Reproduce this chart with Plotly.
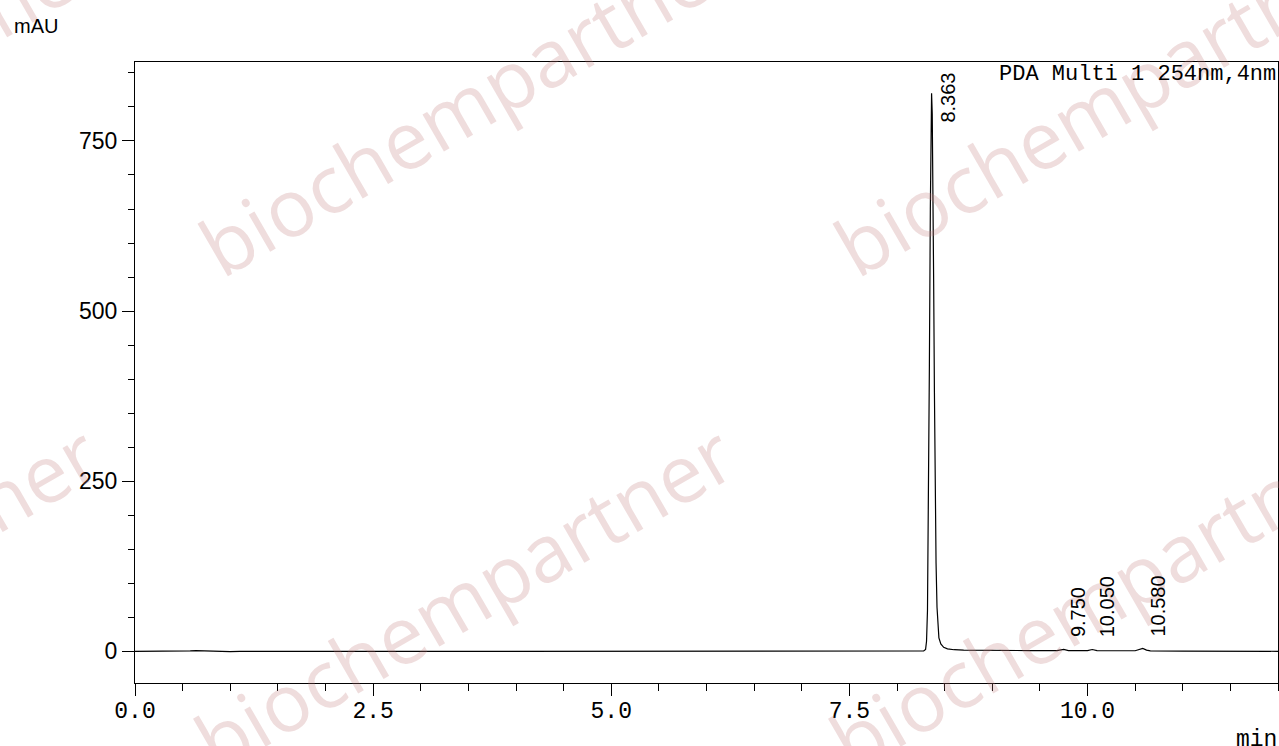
import plotly.graph_objects as go

# ---------------- data ----------------
time_min = [0.00, 0.30, 0.50, 0.58, 0.64, 0.70, 0.78, 0.90, 1.00, 1.10, 1.20, 1.30, 1.45,
            2.00, 3.00, 4.00, 5.00, 5.50, 5.65, 5.80, 6.00, 7.00, 7.50, 8.00, 8.20,
            8.28, 8.30, 8.31, 8.32, 8.33, 8.34, 8.35, 8.357, 8.363, 8.37, 8.377, 8.385,
            8.393, 8.40, 8.41, 8.42, 8.43, 8.44, 8.46, 8.49, 8.53, 8.60, 8.70, 8.90,
            9.40, 9.68, 9.75, 9.80, 10.00, 10.05, 10.10, 10.50, 10.55, 10.58, 10.62,
            10.66, 11.00, 12.00]
signal_mau = [0.0, 0.0, 0.2, 0.8, 1.3, 0.9, 0.4, 0.1, -0.2, 0.2, -0.1, 0.1, 0.0,
              0.0, 0.0, 0.0, 0.0, 0.3, 0.5, 0.2, 0.0, 0.0, 0.0, 0.1, 0.3,
              0.6, 3.0, 15.0, 60.0, 190.0, 420.0, 650.0, 775.0, 820.0, 790.0, 700.0, 540.0,
              380.0, 250.0, 130.0, 65.0, 35.0, 20.0, 11.0, 6.0, 3.8, 2.5, 1.8, 1.4,
              1.2, 1.2, 3.0, 1.3, 1.2, 2.8, 1.2, 1.0, 2.5, 4.5, 2.0,
              0.8, 0.3, 0.2]

peak_rt = [8.363, 9.750, 10.050, 10.580]
peak_height = [820.0, 3.0, 2.8, 4.5]
peak_labels = ["8.363", "9.750", "10.050", "10.580"]

x_tickvals = [0.0, 2.5, 5.0, 7.5, 10.0]
x_ticktext = ["0.0", "2.5", "5.0", "7.5", "10.0"]
y_tickvals = [0, 250, 500, 750]
y_ticktext = ["0", "250", "500", "750"]

detector_label = "PDA Multi 1 254nm,4nm"
y_unit = "mAU"
x_unit = "min"
watermark = "biochempartner"

# ---------------- layout geometry ----------------
W, H = 1279, 746
ML, MR, MT, MB = 135, 1, 62, 63
PW, PH = W - ML - MR, H - MT - MB


def px_to_paper(px, py):
    return (px - ML) / PW, (H - MB - py) / PH


MONO = "Liberation Mono, DejaVu Sans Mono, monospace"
SANS = "Liberation Sans, Arial, sans-serif"

fig = go.Figure()
fig.add_trace(go.Scatter(x=time_min, y=signal_mau, mode="lines",
                         line=dict(color="black", width=1.2), hoverinfo="skip",
                         showlegend=False))

annotations = []

# watermarks
wm_centers = [(468 - 635, 102), (468, 102), (468 + 635, 102),
              (463 - 635, 596), (463, 596), (463 + 635, 596)]
for cx, cy in wm_centers:
    ax, ay = px_to_paper(cx, cy)
    annotations.append(dict(text=watermark, x=ax, y=ay, xref="paper", yref="paper",
                            xanchor="center", yanchor="middle", showarrow=False,
                            textangle=-30,
                            font=dict(family="Open Sans, sans-serif", size=80,
                                      color="rgba(190,120,120,0.25)")))

# peak labels
for rt, h, lab in zip(peak_rt, peak_height, peak_labels):
    if h > 700:
        _, ty = px_to_paper(0, 71)
        annotations.append(dict(text=lab, x=rt, y=ty, xref="x", yref="paper",
                                xanchor="center", yanchor="top", xshift=16,
                                textangle=-90, showarrow=False,
                                font=dict(family=SANS, size=20, color="black")))
    else:
        annotations.append(dict(text=lab, x=rt, y=h, xref="x", yref="y",
                                xanchor="center", yanchor="bottom", xshift=15,
                                yshift=10, textangle=-90, showarrow=False,
                                font=dict(family=SANS, size=20, color="black")))

# detector label
dx, dy = px_to_paper(1278, 60)
annotations.append(dict(text=detector_label, x=dx, y=dy, xref="paper", yref="paper",
                        xanchor="right", yanchor="top", showarrow=False,
                        font=dict(family=MONO, size=22, color="black")))
# unit labels
ux, uy = px_to_paper(12, 13)
annotations.append(dict(text=y_unit, x=ux, y=uy, xref="paper", yref="paper",
                        xanchor="left", yanchor="top", showarrow=False,
                        font=dict(family=SANS, size=20, color="black")))
mx, my = px_to_paper(1279, 725)
annotations.append(dict(text=x_unit, x=mx, y=my, xref="paper", yref="paper",
                        xanchor="right", yanchor="top", showarrow=False,
                        font=dict(family=MONO, size=23, color="black")))

fig.update_layout(
    width=W, height=H,
    margin=dict(l=ML, r=MR, t=MT, b=MB, pad=0),
    paper_bgcolor="white", plot_bgcolor="white",
    showlegend=False,
    annotations=annotations,
    xaxis=dict(range=[0, 12], showgrid=False, zeroline=False,
               showline=True, linecolor="black", linewidth=1, mirror=True,
               ticks="outside", ticklen=12, tickwidth=1, tickcolor="black",
               tickvals=x_tickvals, ticktext=x_ticktext, ticklabelstandoff=-6,
               tickfont=dict(family=MONO, size=23, color="black"),
               minor=dict(dtick=0.5, tick0=0, ticks="outside", ticklen=7,
                          tickwidth=1, tickcolor="black", showgrid=False)),
    yaxis=dict(range=[-46.4, 866], showgrid=False, zeroline=False,
               showline=True, linecolor="black", linewidth=1, mirror=True,
               ticks="outside", ticklen=12, tickwidth=1, tickcolor="black",
               tickvals=y_tickvals, ticktext=y_ticktext,
               tickfont=dict(family=SANS, size=23, color="black"),
               minor=dict(dtick=50, tick0=0, ticks="outside", ticklen=6,
                          tickwidth=1, tickcolor="black", showgrid=False)),
)

fig.write_html("out.html", config={"displayModeBar": False},
               post_script="document.body.style.margin='0';")
